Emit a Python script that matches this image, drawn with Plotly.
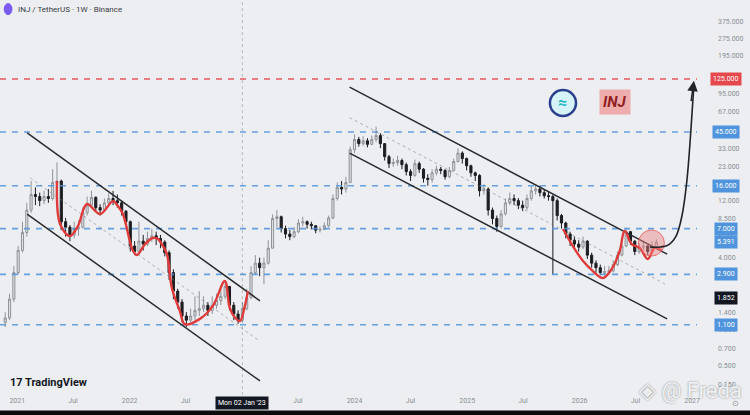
import math
import pandas as pd
import plotly.graph_objects as go

# ---------------- data ----------------
start_date = "2020-11-23"
first_open = 1.15
closes = [1.25, 1.8, 3.0, 4.6, 6.5, 10.0, 13.5, 13.0, 12.0, 13.0,
          12.5, 17.0, 17.5, 8.0, 7.2, 6.2, 7.0, 7.2, 9.5, 11.0,
          12.8, 10.5, 10.0, 11.5, 12.5, 12.0, 11.5, 9.8, 8.0, 5.0,
          4.5, 5.5, 5.2, 5.8, 6.1, 5.8, 5.4, 4.4, 3.0, 2.1,
          1.7, 1.3, 1.2, 1.3, 1.45, 1.5, 1.6, 1.45, 1.6, 1.75,
          1.9, 2.3, 1.6, 1.35, 1.2, 1.5, 1.85, 3.0, 3.6, 3.3,
          3.6, 4.8, 8.5, 8.8, 7.0, 6.3, 6.0, 6.6, 7.8, 8.0,
          7.6, 7.4, 6.8, 6.9, 7.4, 8.6, 12.5, 15.5, 15.0, 17.0,
          32.0, 39.0, 36.0, 38.0, 35.5, 39.0, 42.0, 36.0, 28.0, 24.5,
          25.0, 26.0, 24.0, 21.0, 19.5, 24.5, 22.0, 18.5, 18.0, 20.5,
          22.0, 21.5, 19.0, 21.5, 25.5, 30.0, 27.0, 23.5, 20.5, 19.5,
          14.5, 15.0, 10.0, 8.5, 7.3, 9.3, 11.5, 12.5, 12.0, 11.0,
          10.5, 12.5, 14.5, 15.0, 14.0, 13.2, 13.0, 12.0, 9.0, 7.8,
          6.3, 5.6, 5.2, 4.9, 5.5, 4.2, 3.6, 3.3, 3.0, 3.05,
          3.1, 3.5, 4.2, 5.0, 6.6, 5.5, 4.5, 4.9, 5.0, 4.5,
          4.9, 5.391]
highs = [1.4, 2.0, 3.4, 5.0, 8.0, 11.5, 17.5, 15.5, 14.0, 14.5,
         15.0, 22.0, 25.0, 18.0, 8.6, 7.5, 8.0, 8.2, 10.5, 13.0,
         14.5, 13.0, 11.2, 12.5, 13.8, 14.5, 13.5, 12.0, 10.0, 8.2,
         5.5, 8.0, 6.2, 6.6, 7.0, 6.6, 6.2, 5.6, 4.6, 3.2,
         2.2, 1.8, 1.4, 1.5, 1.9, 2.1, 1.9, 1.7, 1.9, 2.0,
         2.2, 2.6, 2.3, 1.7, 1.45, 1.7, 2.2, 3.4, 4.2, 4.0,
         4.0, 5.6, 9.2, 10.0, 9.0, 7.4, 6.8, 7.2, 8.4, 8.8,
         8.2, 8.0, 7.5, 7.3, 7.9, 9.0, 13.5, 17.0, 17.5, 19.0,
         34.0, 43.0, 41.0, 41.5, 40.0, 42.0, 50.0, 44.0, 36.0, 29.0,
         27.0, 28.5, 27.0, 25.0, 22.0, 26.5, 25.5, 22.5, 20.0, 22.0,
         23.5, 23.0, 22.0, 23.0, 27.0, 33.0, 31.0, 27.5, 24.0, 21.0,
         20.0, 16.5, 15.5, 10.5, 9.0, 10.0, 12.5, 14.0, 13.5, 12.6,
         12.0, 13.5, 15.8, 16.5, 16.0, 15.0, 14.2, 13.5, 12.5, 9.3,
         8.0, 6.6, 6.0, 5.6, 6.0, 5.6, 4.4, 3.8, 3.5, 3.4,
         3.4, 3.8, 4.5, 5.3, 7.1, 6.7, 5.6, 5.3, 5.5, 5.1,
         5.5, 5.7]
lows = [1.05, 1.2, 1.7, 2.9, 4.4, 6.0, 9.5, 11.0, 10.8, 11.2,
        11.5, 12.0, 13.5, 6.8, 6.0, 5.5, 5.8, 6.1, 7.0, 9.0,
        10.5, 9.8, 9.0, 9.8, 11.0, 11.0, 10.5, 9.0, 7.5, 4.5,
        4.2, 4.4, 4.6, 5.0, 5.4, 5.1, 4.8, 4.1, 2.6, 1.8,
        1.5, 1.15, 1.05, 1.15, 1.2, 1.3, 1.4, 1.3, 1.35, 1.5,
        1.6, 1.8, 1.45, 1.2, 1.12, 1.15, 1.45, 1.8, 2.9, 2.8,
        2.4, 3.5, 4.8, 7.2, 6.5, 5.8, 5.6, 5.8, 6.4, 7.3,
        7.0, 6.9, 6.4, 6.5, 6.8, 7.2, 8.4, 12.0, 13.5, 14.0,
        17.0, 30.0, 34.0, 34.5, 33.5, 35.0, 37.0, 33.0, 26.0, 22.5,
        23.0, 23.5, 22.0, 19.5, 17.5, 19.0, 20.5, 17.0, 16.0, 17.0,
        19.5, 20.0, 18.0, 18.5, 21.0, 25.0, 24.5, 21.5, 19.0, 17.5,
        13.0, 13.5, 9.0, 7.6, 6.6, 7.0, 9.0, 11.0, 11.0, 10.2,
        9.8, 10.0, 12.0, 13.5, 13.0, 12.5, 12.0, 2.9, 8.2, 7.0,
        5.8, 5.0, 4.8, 4.5, 4.7, 3.9, 3.3, 3.0, 2.85, 2.85,
        2.9, 3.0, 3.4, 4.1, 4.9, 5.1, 4.2, 4.3, 4.6, 4.2,
        4.4, 4.8]
opens = [first_open] + closes[:-1]

# key horizontal levels
red_level = 125.0
blue_levels = [45.0, 16.0, 7.0, 2.9, 1.1]
current_price = 5.391
cross_price = 1.852
cross_date = "2023-01-02"

# price-axis tick labels
tick_vals = [375, 275, 195, 95, 67, 33, 23, 12, 8.5, 6.0, 4.0, 1.4, 1.0, 0.7, 0.5, 0.35]

# time-axis ticks
x_tick_dates = ["2021-01-01", "2021-07-01", "2022-01-01", "2022-07-01", "2023-07-01",
                "2024-01-01", "2024-07-01", "2025-01-01", "2025-07-01", "2026-01-01",
                "2026-07-01", "2027-01-01"]
x_tick_text = ["2021", "Jul", "2022", "Jul", "Jul", "2024", "Jul", "2025", "Jul", "2026", "Jul", "2027"]

# drawn channels (date, price)
chan_left_upper = (["2021-02-02", "2023-02-28"], [44.2, 1.74])
chan_left_lower = (["2021-02-02", "2023-02-28"], [9.27, 0.372])
chan_left_mid = (["2021-02-12", "2023-02-28"], [18.6, 0.80])
chan_right_upper = (["2023-12-16", "2026-10-12"], [107.0, 4.29])
chan_right_lower = (["2023-12-16", "2026-10-12"], [30.0, 1.23])
chan_right_mid = (["2023-12-16", "2026-10-05"], [59.4, 2.41])

# hand-drawn red curves
red1_dates = ["2021-05-10", "2021-05-20", "2021-06-21", "2021-07-17", "2021-08-15", "2021-09-27",
              "2021-11-08", "2021-11-24", "2021-12-10", "2022-01-12", "2022-01-25", "2022-02-20",
              "2022-03-17", "2022-04-03", "2022-04-19", "2022-05-02", "2022-05-18", "2022-06-13",
              "2022-06-29", "2022-08-17", "2022-09-28", "2022-11-06", "2022-11-22", "2022-12-08",
              "2022-12-25", "2023-01-10", "2023-01-20"]
red1_prices = [17.5, 7.65, 6.07, 7.36, 11.25, 9.27, 11.9, 10.8, 9.27, 4.55, 4.21, 5.2,
               5.84, 5.73, 5.0, 4.29, 2.23, 1.43, 1.11, 1.23, 1.58, 2.55, 1.52, 1.27,
               1.18, 1.58, 2.10]
red2_dates = ["2025-11-08", "2025-12-10", "2026-01-12", "2026-02-13", "2026-03-17", "2026-04-15",
              "2026-05-11", "2026-05-27", "2026-06-19", "2026-07-15", "2026-08-10", "2026-09-02",
              "2026-09-25"]
red2_prices = [6.95, 5.0, 3.75, 3.09, 2.70, 3.21, 4.55, 6.7, 5.2, 4.82, 3.90, 4.82, 4.6]

# projected black path
proj_dates = ["2026-08-17", "2026-09-19", "2026-10-15", "2026-11-10", "2026-11-29",
              "2026-12-15", "2026-12-28", "2027-01-07"]
proj_prices = [4.91, 4.91, 5.1, 6.07, 8.92, 17.5, 45.9, 112.0]

circle_date = "2026-08-22"
circle_price = 5.3

# ---------------- figure ----------------
BG = "#eceef1"
BLUE = "#4f94dc"
REDC = "#e5484d"
LBL = "#8a8e94"
FONT = "Roboto"
x_range = ["2020-11-06", "2027-01-17"]

fig = go.Figure()

# dashed levels
for v in blue_levels:
    fig.add_trace(go.Scatter(x=x_range, y=[v, v], mode="lines",
                             line=dict(color="rgba(79,148,220,0.85)", width=1.6, dash="6px,6px"),
                             hoverinfo="skip", showlegend=False))
fig.add_trace(go.Scatter(x=x_range, y=[red_level, red_level], mode="lines",
                         line=dict(color="rgba(229,72,77,0.9)", width=1.6, dash="6px,6px"),
                         hoverinfo="skip", showlegend=False))

# crosshair vertical
fig.add_trace(go.Scatter(x=[cross_date, cross_date], y=[0.2, 700], mode="lines",
                         line=dict(color="rgba(120,124,130,0.45)", width=1, dash="dot"),
                         hoverinfo="skip", showlegend=False))

# mid dotted channel lines
for xs, ys in [chan_left_mid, chan_right_mid]:
    fig.add_trace(go.Scatter(x=xs, y=ys, mode="lines",
                             line=dict(color="rgba(120,124,130,0.55)", width=1, dash="dot"),
                             hoverinfo="skip", showlegend=False))

# candles
dates = pd.date_range(start_date, periods=len(closes), freq="14D")
fig.add_trace(go.Candlestick(
    x=dates, open=opens, high=highs, low=lows, close=closes,
    increasing=dict(line=dict(color="#8f9398", width=1), fillcolor="#dcdfe3"),
    decreasing=dict(line=dict(color="#1c1d20", width=1), fillcolor="#1c1d20"),
    whiskerwidth=0, showlegend=False, hoverinfo="skip"))

# channel lines
for xs, ys in [chan_left_upper, chan_left_lower, chan_right_upper, chan_right_lower]:
    fig.add_trace(go.Scatter(x=xs, y=ys, mode="lines",
                             line=dict(color="#2a2b2e", width=1.5),
                             hoverinfo="skip", showlegend=False))

# red hand-drawn curves
for xs, ys in [(red1_dates, red1_prices), (red2_dates, red2_prices)]:
    fig.add_trace(go.Scatter(x=xs, y=ys, mode="lines",
                             line=dict(color="#e03b3b", width=2.4, shape="spline", smoothing=1.0),
                             hoverinfo="skip", showlegend=False))

# circle highlight
fig.add_trace(go.Scatter(x=[circle_date], y=[circle_price], mode="markers",
                         marker=dict(size=26, color="rgba(240,130,130,0.45)",
                                     line=dict(color="rgba(225,80,80,0.7)", width=1)),
                         hoverinfo="skip", showlegend=False))

# projection path
fig.add_trace(go.Scatter(x=proj_dates, y=proj_prices, mode="lines",
                         line=dict(color="#222326", width=1.6, shape="spline", smoothing=1.0),
                         hoverinfo="skip", showlegend=False))

annotations = []
# arrow head
annotations.append(dict(x=proj_dates[-1], y=math.log10(proj_prices[-1] * 1.08), xref="x", yref="y",
                        showarrow=True, arrowhead=2, arrowsize=1.4, arrowwidth=1.5,
                        arrowcolor="#222326", ax=-3, ay=22, text=""))

# level labels on price axis
def axis_box(v, color, txt=None):
    return dict(x=1.0423, y=math.log10(v), xref="paper", yref="y", xanchor="center", yanchor="middle",
                text=txt if txt else f"{v:.3f}", showarrow=False,
                font=dict(family=FONT, size=7, color="white"), bgcolor=color, borderpad=2)

annotations.append(axis_box(red_level, REDC))
for v in blue_levels:
    annotations.append(axis_box(v, BLUE))
annotations.append(axis_box(current_price, BLUE))
annotations.append(axis_box(cross_price, "#131722"))

# crosshair date label
annotations.append(dict(x=cross_date, y=-0.021, xref="x", yref="paper", xanchor="center", yanchor="middle",
                        text="Mon 02 Jan '23", showarrow=False,
                        font=dict(family=FONT, size=7, color="white"), bgcolor="#131722", borderpad=2))

# header
annotations.append(dict(x=0.023, y=0.977, xref="paper", yref="paper", xanchor="left", yanchor="middle",
                        text="INJ / TetherUS · 1W · Binance", showarrow=False,
                        font=dict(family=FONT, size=8, color="#3a3d44")))
# TradingView logo
annotations.append(dict(x=0.012, y=0.032, xref="paper", yref="paper", xanchor="left", yanchor="middle",
                        text="<b>17 TradingView</b>", showarrow=False,
                        font=dict(family=FONT, size=11, color="#131722")))
# INJ badge
annotations.append(dict(x=0.882, y=0.742, xref="paper", yref="paper", xanchor="center", yanchor="middle",
                        text="<b><i>INJ</i></b>", showarrow=False,
                        font=dict(family=FONT, size=15, color="#8e1f22"),
                        bgcolor="rgba(240,160,160,0.85)", borderpad=3))
annotations.append(dict(x=0.8077, y=0.740, xref="paper", yref="paper", xanchor="center", yanchor="middle",
                        text="<b>≈</b>", showarrow=False,
                        font=dict(family=FONT, size=16, color="#21b8c8")))
# watermark
annotations.append(dict(x=1.068, y=0.012, xref="paper", yref="paper", xanchor="right", yanchor="middle",
                        text="◈ @ Freda", showarrow=False,
                        font=dict(family=FONT, size=22, color="rgba(255,255,255,0.85)",
                                  shadow="0px 0px 2px #6d7178")))
annotations.append(dict(x=1.055, y=-0.021, xref="paper", yref="paper", xanchor="center", yanchor="middle",
                        text="⊙", showarrow=False, font=dict(family=FONT, size=8, color=LBL)))

shapes = [
    # purple symbol icon
    dict(type="circle", xref="paper", yref="paper", x0=0.006, x1=0.0172, y0=0.963, y1=0.991,
         fillcolor="#7b5cf0", line=dict(color="#7b5cf0", width=1)),
    # INJ logo ring
    dict(type="circle", xref="paper", yref="paper", x0=0.789, x1=0.8264, y0=0.7063, y1=0.7722,
         fillcolor="#d6f4f7", line=dict(color="#2b3f8f", width=2.5)),
    # bottom dark strip
    dict(type="rect", xref="paper", yref="paper", x0=-0.01, x1=1.09, y0=-0.06, y1=-0.039,
         fillcolor="#0b0b0c", line=dict(width=0)),
]

fig.update_layout(
    width=750, height=415,
    margin=dict(l=0, r=53, t=0, b=20),
    paper_bgcolor=BG, plot_bgcolor=BG,
    showlegend=False,
    font=dict(family=FONT, size=7, color=LBL),
    annotations=annotations, shapes=shapes,
    xaxis=dict(type="date", range=x_range, rangeslider=dict(visible=False),
               tickvals=x_tick_dates, ticktext=x_tick_text, showgrid=False, zeroline=False,
               showline=False, ticks="", tickfont=dict(family=FONT, size=7, color=LBL)),
    yaxis=dict(type="log", side="right", range=[-0.547, 2.758], showgrid=False, zeroline=False,
               showline=False, ticks="", tickvals=tick_vals,
               ticktext=[f"{v:.3f}" for v in tick_vals], ticklabelstandoff=20,
               tickfont=dict(family=FONT, size=7, color=LBL)),
)

fig.write_html("out.html", config={"displayModeBar": False},
               post_script="document.body.style.margin='0px';document.body.style.overflow='hidden';")
